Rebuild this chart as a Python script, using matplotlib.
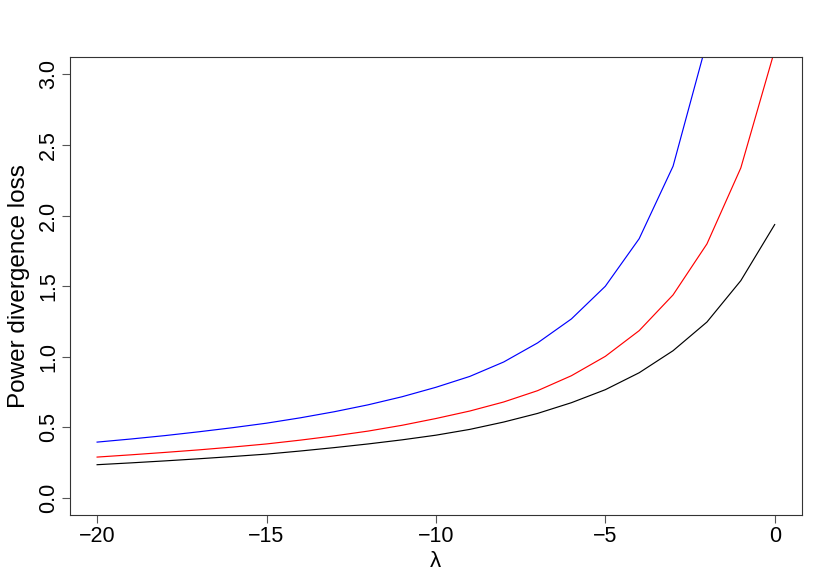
import matplotlib
matplotlib.use("Agg")
import matplotlib.pyplot as plt
import numpy as np

plt.rcParams['font.family'] = ['Liberation Sans', 'DejaVu Sans']

# lambda grid and the three loss curves
lam = list(range(-20, 1))
loss_black = [0.236, 0.249, 0.263, 0.278, 0.294, 0.311, 0.333, 0.357, 0.383, 0.412,
              0.445, 0.486, 0.538, 0.599, 0.675, 0.767, 0.887, 1.043, 1.246, 1.539, 1.936]
loss_red = [0.290, 0.306, 0.323, 0.341, 0.361, 0.383, 0.410, 0.440, 0.474, 0.515,
            0.563, 0.616, 0.680, 0.760, 0.866, 1.003, 1.185, 1.438, 1.799, 2.337, 3.17]
# blue leaves the plot after lambda = -2
lam_blue = list(range(-20, -1))
loss_blue = [0.396, 0.418, 0.442, 0.469, 0.498, 0.530, 0.568, 0.611, 0.660, 0.717,
             0.784, 0.861, 0.963, 1.098, 1.268, 1.499, 1.836, 2.349, 3.233]

xticks = [-20, -15, -10, -5, 0]
yticks = [0.0, 0.5, 1.0, 1.5, 2.0, 2.5, 3.0]

fig = plt.figure(figsize=(8.3, 5.88), dpi=100)
ax = fig.add_axes([70 / 830, 1 - 515 / 588, (801.8 - 70) / 830, (515 - 57.3) / 588])

ax.plot(lam, loss_black, color='black', lw=0.85)
ax.plot(lam, loss_red, color='#FF0000', lw=0.85)
ax.plot(lam_blue, loss_blue, color='#0000FF', lw=0.85)

# R style 4% padding
ax.set_xlim(-20.8, 0.8)
ax.set_ylim(-0.12, 3.12)

ax.set_xticks(xticks)
ax.set_xticklabels(['\u221220', '\u221215', '\u221210', '\u22125', '0'])
ax.set_yticks(yticks)
ax.set_yticklabels([f'{v:.1f}' for v in yticks], rotation=90, va='center')
ax.tick_params(axis='both', labelsize=15.5, length=6, width=0.8, color='#555555', pad=2)

for s in ax.spines.values():
    s.set_linewidth(0.8)
    s.set_color('#333333')

ax.set_xlabel('\u03bb', fontsize=16, labelpad=3)
ax.set_ylabel('Power divergence loss', fontsize=17.5, labelpad=6)

fig.savefig('out.png', dpi=100)
